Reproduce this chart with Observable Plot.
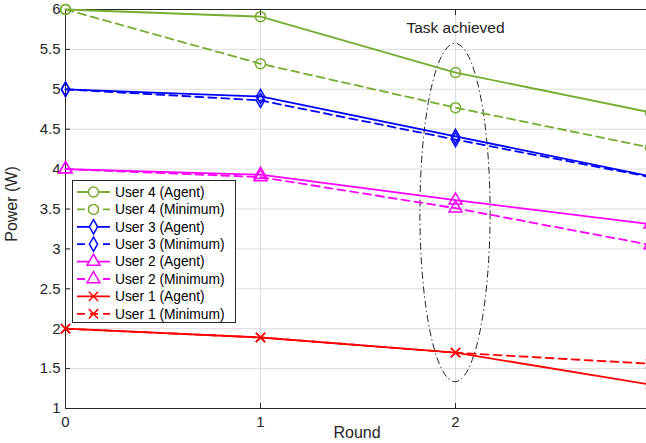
<!DOCTYPE html>
<html>
<head>
<meta charset="utf-8">
<script src="https://cdn.jsdelivr.net/npm/d3@7"></script>
<script src="https://cdn.jsdelivr.net/npm/@observablehq/plot@0.6"></script>
<style>
  html, body { margin: 0; padding: 0; background: #fff; overflow: hidden; width: 646px; height: 443px; }
  #wrap { position: relative; width: 646px; height: 443px; overflow: hidden; }
  #chart { width: 660px; }
  #legend { position: absolute; left: 72px; top: 180px; }
  svg { font-family: "Liberation Sans", Arial, Helvetica, sans-serif; }
</style>
</head>
<body>
<div id="wrap"><div id="chart"></div><div id="legend"></div></div>
<script>
// ---- data ----
const rounds = [0, 1, 2, 3];
const user4Agent   = [6.00, 5.91, 5.21, 4.71];
const user4Minimum = [6.00, 5.32, 4.77, 4.27];
const user3Agent   = [5.00, 4.91, 4.41, 3.91];
const user3Minimum = [5.00, 4.86, 4.37, 3.90];
const user2Agent   = [4.00, 3.93, 3.61, 3.31];
const user2Minimum = [4.00, 3.90, 3.51, 3.05];
const user1Agent   = [2.00, 1.89, 1.70, 1.30];
const user1Minimum = [2.00, 1.89, 1.70, 1.56];

const seriesNames = ["User 4 (Agent)", "User 4 (Minimum)", "User 3 (Agent)", "User 3 (Minimum)",
                     "User 2 (Agent)", "User 2 (Minimum)", "User 1 (Agent)", "User 1 (Minimum)"];
const seriesValues = [user4Agent, user4Minimum, user3Agent, user3Minimum,
                      user2Agent, user2Minimum, user1Agent, user1Minimum];
const seriesColors = ["#77AC30", "#77AC30", "#0000FF", "#0000FF", "#FF00FF", "#FF00FF", "#FF0000", "#FF0000"];
const seriesSymbols = ["circle", "circle", "diamond", "diamond", "triangle", "triangle", "times", "times"];
const seriesDashed = [false, true, false, true, false, true, false, true];

const xTicks = [0, 1, 2, 3];
const yTicks = [1, 1.5, 2, 2.5, 3, 3.5, 4, 4.5, 5, 5.5, 6];

// annotation: ellipse around round 2
const ellipseCenter = [2, 3.45];
const ellipseRadii = [0.18, 2.12];
const annotationText = "Task achieved";
const annotationPos = [2, 5.77];

// ---- build table ----
const rows = [];
seriesNames.forEach((name, i) => {
  rounds.forEach((r, j) => rows.push({series: name, round: r, power: seriesValues[i][j], idx: i}));
});

const font = "Liberation Sans, Arial, Helvetica, sans-serif";
const axisColor = "#262626";
const symR = {circle: 5, diamond: 4.3, triangle: 4.8, times: 4.3};

const ellipseMark = (index, scales, values, dimensions, context) => {
  const cx = scales.x(ellipseCenter[0]), cy = scales.y(ellipseCenter[1]);
  const rx = Math.abs(scales.x(ellipseCenter[0] + ellipseRadii[0]) - cx);
  const ry = Math.abs(scales.y(ellipseCenter[1] + ellipseRadii[1]) - cy);
  const e = document.createElementNS("http://www.w3.org/2000/svg", "ellipse");
  e.setAttribute("cx", cx); e.setAttribute("cy", cy);
  e.setAttribute("rx", rx); e.setAttribute("ry", ry);
  e.setAttribute("fill", "none"); e.setAttribute("stroke", "#222");
  e.setAttribute("stroke-width", 1);
  e.setAttribute("stroke-dasharray", "7,3,1.5,3");
  return e;
};

const marks = [
  Plot.gridX(xTicks.slice(1, 3), {stroke: "#dcdcdc", strokeOpacity: 1, strokeWidth: 1}),
  Plot.gridY(yTicks.slice(1, -1), {stroke: "#dcdcdc", strokeOpacity: 1, strokeWidth: 1}),
  Plot.frame({stroke: axisColor, strokeWidth: 1}),
  // inward ticks
  Plot.axisX(xTicks, {anchor: "bottom", tickSize: -5, tickFormat: () => "", stroke: axisColor, label: null}),
  Plot.axisX(xTicks, {anchor: "top", tickSize: -5, tickFormat: () => "", stroke: axisColor, label: null}),
  Plot.axisY(yTicks, {anchor: "left", tickSize: -5, tickFormat: () => "", stroke: axisColor, label: null}),
  Plot.axisY(yTicks, {anchor: "right", tickSize: -5, tickFormat: () => "", stroke: axisColor, label: null}),
  // labels
  Plot.axisX(xTicks, {anchor: "bottom", tickSize: 0, tickPadding: 8, tickFormat: d3.format("d"),
    fontSize: 15, fill: axisColor, label: null}),
  Plot.axisY(yTicks, {anchor: "left", tickSize: 0, tickPadding: 5, tickFormat: d => String(d),
    fontSize: 15, fill: axisColor, label: null}),
  ellipseMark,
  Plot.text([annotationText], {x: annotationPos[0], y: annotationPos[1], text: d => d,
    fontSize: 15.5, fill: "#222", textAnchor: "middle"}),
];

seriesNames.forEach((name, i) => {
  const data = rows.filter(d => d.idx === i);
  marks.push(Plot.line(data, {x: "round", y: "power", stroke: seriesColors[i], strokeWidth: 1.8,
    strokeDasharray: seriesDashed[i] ? "8,5" : null}));
  marks.push(Plot.dot(data, {x: "round", y: "power", stroke: seriesColors[i], fill: "none",
    symbol: seriesSymbols[i], r: symR[seriesSymbols[i]], strokeWidth: 1.5}));
});

const chart = Plot.plot({
  width: 660, height: 443,
  marginLeft: 65, marginRight: 10, marginTop: 9, marginBottom: 35,
  style: {fontFamily: font, background: "#fff", overflow: "visible", maxWidth: "none"},
  x: {domain: [0, 3], axis: null},
  y: {domain: [1, 6], axis: null},
  marks
});
chart.style.maxWidth = "none";
document.getElementById("chart").appendChild(chart);

// axis titles
const svg = d3.select(chart);
svg.append("text").attr("x", 357).attr("y", 438).attr("text-anchor", "middle")
  .attr("font-size", 16).attr("fill", axisColor).attr("font-family", font).text("Round");
svg.append("text").attr("transform", "translate(17,204) rotate(-90)").attr("text-anchor", "middle")
  .attr("font-size", 16).attr("fill", axisColor).attr("font-family", font).text("Power (W)");

// legend
const lw = 163, lh = 142, rowH = 17.4;
const leg = d3.select("#legend").append("svg").attr("width", lw + 2).attr("height", lh + 2)
  .style("font-family", font);
leg.append("rect").attr("x", 0.5).attr("y", 0.5).attr("width", lw).attr("height", lh)
  .attr("fill", "#fff").attr("stroke", axisColor).attr("stroke-width", 1);
const symMap = {circle: d3.symbolCircle, diamond: d3.symbolDiamond, triangle: d3.symbolTriangle, times: d3.symbolTimes};
seriesNames.forEach((name, i) => {
  const cy = 12 + i * rowH;
  leg.append("line").attr("x1", 5).attr("x2", 38).attr("y1", cy).attr("y2", cy)
    .attr("stroke", seriesColors[i]).attr("stroke-width", 1.8)
    .attr("stroke-dasharray", seriesDashed[i] ? "8,5" : null);
  const r = symR[seriesSymbols[i]];
  leg.append("path").attr("transform", `translate(21.5,${cy})`)
    .attr("d", d3.symbol(symMap[seriesSymbols[i]], Math.PI * r * r)())
    .attr("fill", "#fff").attr("stroke", seriesColors[i]).attr("stroke-width", 1.5);
  leg.append("text").attr("x", 43).attr("y", cy).attr("dy", "0.35em")
    .attr("font-size", 13.8).attr("fill", "#000").text(name);
});
</script>
</body>
</html>
